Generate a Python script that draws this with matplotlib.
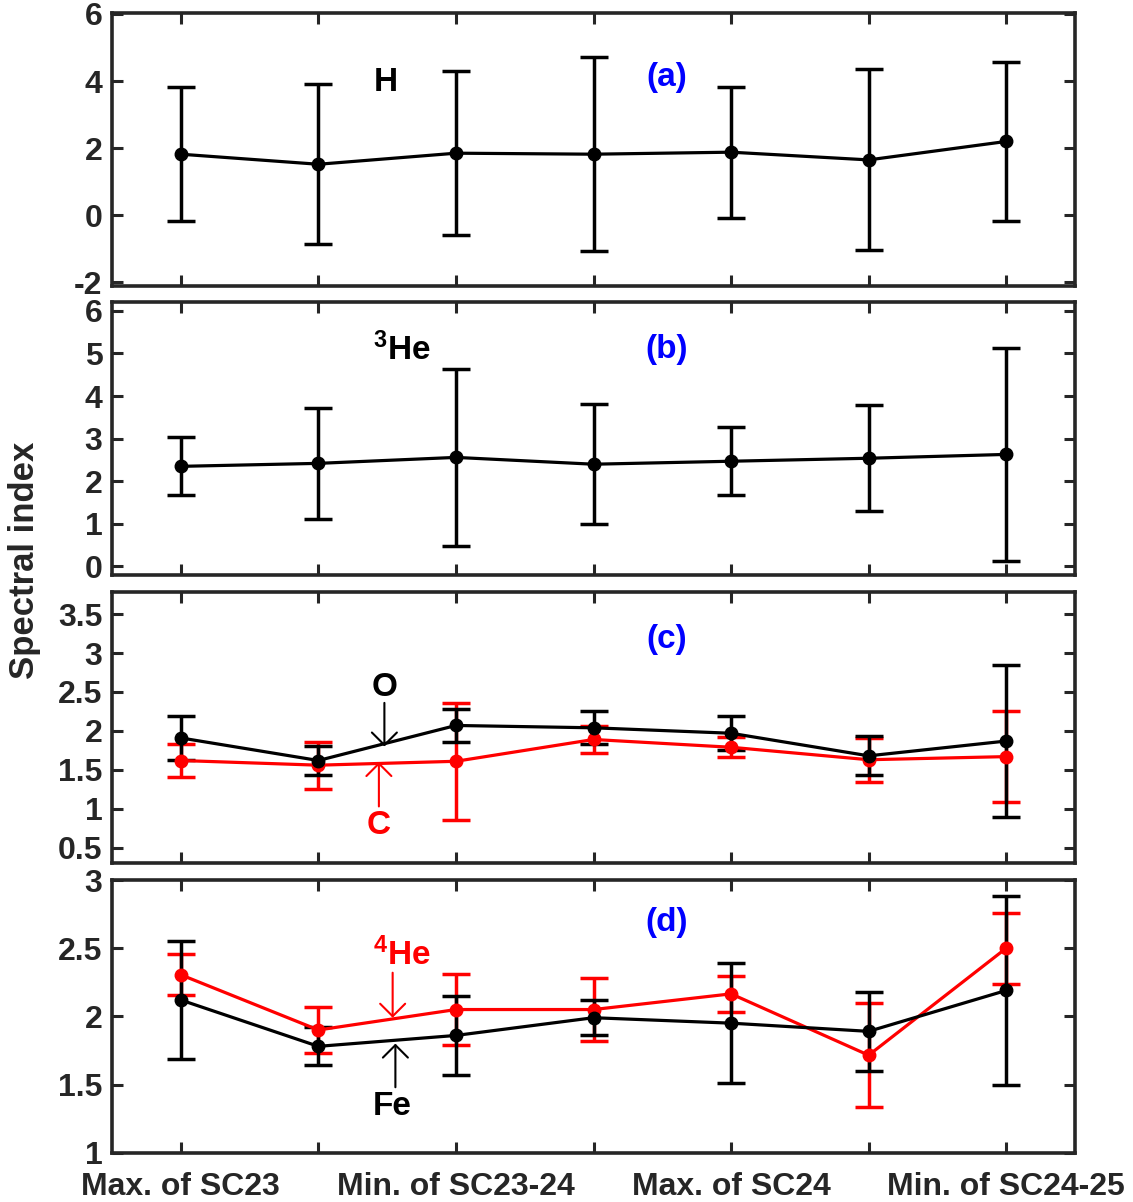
import matplotlib
matplotlib.use("Agg")
import matplotlib.pyplot as plt
from matplotlib.ticker import FuncFormatter

plt.rcParams['font.family'] = ['Liberation Sans', 'DejaVu Sans']
plt.rcParams['font.weight'] = 'bold'
plt.rcParams['axes.unicode_minus'] = False
plt.rcParams['mathtext.fontset'] = 'custom'
plt.rcParams['mathtext.bf'] = 'Liberation Sans:bold'
plt.rcParams['mathtext.rm'] = 'Liberation Sans:bold'

# ---------------- data ----------------
x = [1, 2, 3, 4, 5, 6, 7]
xtick_labels = ["Max. of SC23", "Min. of SC23-24", "Max. of SC24", "Min. of SC24-25"]

H_val = [1.82, 1.52, 1.85, 1.82, 1.88, 1.65, 2.20]
H_err = [2.00, 2.38, 2.45, 2.90, 1.95, 2.70, 2.37]

He3_val = [2.35, 2.42, 2.56, 2.40, 2.47, 2.54, 2.63]
He3_err = [0.68, 1.30, 2.08, 1.41, 0.80, 1.24, 2.50]

O_val = [1.91, 1.62, 2.07, 2.04, 1.97, 1.68, 1.87]
O_err = [0.28, 0.18, 0.21, 0.21, 0.22, 0.25, 0.98]
C_val = [1.62, 1.56, 1.61, 1.89, 1.79, 1.63, 1.67]
C_err = [0.21, 0.30, 0.75, 0.17, 0.13, 0.28, 0.58]

Fe_val = [2.12, 1.78, 1.86, 1.99, 1.95, 1.89, 2.19]
Fe_err = [0.43, 0.14, 0.29, 0.13, 0.44, 0.29, 0.69]
He4_val = [2.305, 1.90, 2.05, 2.05, 2.165, 1.715, 2.50]
He4_err = [0.15, 0.17, 0.26, 0.23, 0.13, 0.38, 0.26]

# ---------------- figure ----------------
W, Hpx = 1133, 1202
fig = plt.figure(figsize=(W / 100, Hpx / 100), dpi=100)

left = 112 / W
width = (1075 - 112) / W
panels_px = [(13.3, 285.7), (302.3, 575.0), (592.3, 863.3), (880.0, 1152.7)]
axes = []
for top, bot in panels_px:
    ax = fig.add_axes([left, 1 - bot / Hpx, width, (bot - top) / Hpx])
    axes.append(ax)

spine_col = '#262626'
fmt = FuncFormatter(lambda v, p: ('%g' % v))

def style(ax, ylim, yticks, show_x):
    ax.set_xlim(0.5, 7.5)
    ax.set_ylim(*ylim)
    ax.set_yticks(yticks)
    ax.yaxis.set_major_formatter(fmt)
    ax.set_xticks(x)
    if show_x:
        ax.set_xticklabels([xtick_labels[0], '', xtick_labels[1], '', xtick_labels[2], '', xtick_labels[3]])
    else:
        ax.set_xticklabels([])
    ax.tick_params(direction='in', length=8, width=2.2, color=spine_col,
                   top=True, right=True, labelsize=23, labelcolor=spine_col, pad=7)
    ax.tick_params(axis='x', labelsize=23, pad=14)
    for lab in ax.get_xticklabels() + ax.get_yticklabels():
        lab.set_fontweight('bold')
    for s in ax.spines.values():
        s.set_linewidth(2.6)
        s.set_color(spine_col)

ekw = dict(fmt='-o', lw=2.3, ms=9, capsize=10, capthick=2.5, elinewidth=2.5)
ann_fs = 24
arr = lambda c: dict(arrowstyle='->,head_length=0.45,head_width=0.45', color=c, lw=1.5,
                     mutation_scale=20, shrinkA=0, shrinkB=0)

# (a)
ax = axes[0]
ax.errorbar(x, H_val, yerr=H_err, color='black', **ekw)
style(ax, (-2.1, 6.02), [-2, 0, 2, 4, 6], False)
ax.text(2.49, 3.97, 'H', ha='center', va='center', fontsize=ann_fs, fontweight='bold')
ax.text(4.53, 4.12, '(a)', ha='center', va='center', fontsize=ann_fs, fontweight='bold', color='blue')

# (b)
ax = axes[1]
ax.errorbar(x, He3_val, yerr=He3_err, color='black', **ekw)
style(ax, (-0.2, 6.2), [0, 1, 2, 3, 4, 5, 6], False)
ax.text(2.61, 5.08, r'$\mathbf{^3}$He', ha='center', va='center', fontsize=ann_fs, fontweight='bold')
ax.text(4.53, 5.1, '(b)', ha='center', va='center', fontsize=ann_fs, fontweight='bold', color='blue')

# (c)
ax = axes[2]
ax.errorbar(x, C_val, yerr=C_err, color='red', **ekw)
ax.errorbar(x, O_val, yerr=O_err, color='black', **ekw)
style(ax, (0.3, 3.78), [0.5, 1, 1.5, 2, 2.5, 3, 3.5], False)
ax.text(4.53, 3.17, '(c)', ha='center', va='center', fontsize=ann_fs, fontweight='bold', color='blue')
ax.text(2.48, 2.56, 'O', ha='center', va='center', fontsize=ann_fs, fontweight='bold', color='black')
ax.annotate('', xy=(2.48, 1.80), xytext=(2.48, 2.36), arrowprops=arr('black'))
ax.text(2.44, 0.79, 'C', ha='center', va='center', fontsize=ann_fs, fontweight='bold', color='red')
ax.annotate('', xy=(2.44, 1.60), xytext=(2.44, 1.03), arrowprops=arr('red'))

# (d)
ax = axes[3]
ax.errorbar(x, He4_val, yerr=He4_err, color='red', **ekw)
ax.errorbar(x, Fe_val, yerr=Fe_err, color='black', **ekw)
style(ax, (1.0, 3.0), [1, 1.5, 2, 2.5, 3], True)
ax.text(4.53, 2.69, '(d)', ha='center', va='center', fontsize=ann_fs, fontweight='bold', color='blue')
ax.text(2.61, 2.45, r'$\mathbf{^4}$He', ha='center', va='center', fontsize=ann_fs, fontweight='bold', color='red')
ax.annotate('', xy=(2.54, 1.99), xytext=(2.54, 2.32), arrowprops=arr('red'))
ax.text(2.54, 1.34, 'Fe', ha='center', va='center', fontsize=ann_fs, fontweight='bold', color='black')
ax.annotate('', xy=(2.56, 1.80), xytext=(2.56, 1.48), arrowprops=arr('black'))

fig.text(25 / W, 1 - 560 / Hpx, 'Spectral index', rotation=90, ha='center', va='center',
         fontsize=25, fontweight='bold', color=spine_col)

fig.savefig('out.png', dpi=100)
